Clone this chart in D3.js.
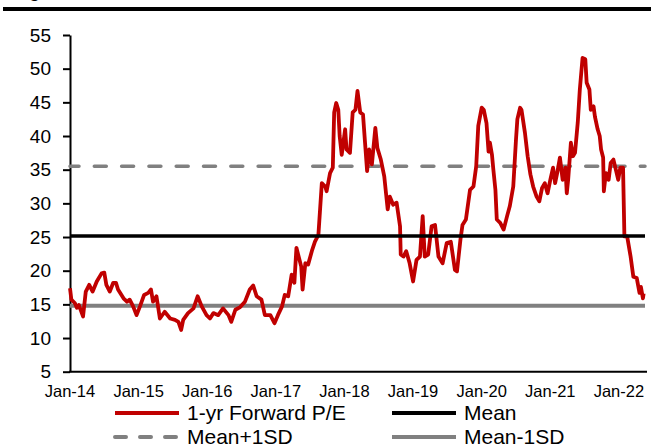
<!DOCTYPE html>
<html>
<head>
  <meta charset="utf-8">
  <title>1-yr Forward P/E</title>
  <script src="https://d3js.org/d3.v7.min.js"></script>
  <style>
    body { margin: 0; background: #fff; }
    svg text { font-family: Arial, "Liberation Sans", sans-serif; fill: #000; }
    .ylab text { font-size: 19px; }
    .xlab { font-size: 16.5px; }
    .legend text { font-size: 21px; }
  </style>
</head>
<body>
  <script>
    // series (decimal year, P/E)
    var dates = [
      2014.00, 2014.02, 2014.07, 2014.10, 2014.13, 2014.19, 2014.23, 2014.28, 2014.33, 2014.39,
      2014.46, 2014.50, 2014.53, 2014.58, 2014.63, 2014.67, 2014.70, 2014.78, 2014.83, 2014.87,
      2014.92, 2014.97, 2015.02, 2015.08, 2015.14, 2015.18, 2015.21, 2015.26, 2015.31, 2015.38,
      2015.46, 2015.53, 2015.58, 2015.62, 2015.65, 2015.72, 2015.80, 2015.86, 2015.92, 2015.99,
      2016.04, 2016.09, 2016.16, 2016.23, 2016.31, 2016.35, 2016.41, 2016.48, 2016.55, 2016.62,
      2016.67, 2016.72, 2016.79, 2016.84, 2016.92, 2016.98, 2017.03, 2017.09, 2017.13, 2017.18,
      2017.23, 2017.27, 2017.30, 2017.37, 2017.39, 2017.43, 2017.47, 2017.53, 2017.57, 2017.62,
      2017.67, 2017.72, 2017.74, 2017.79, 2017.83, 2017.85, 2017.88, 2017.91, 2017.93, 2017.96,
      2018.01, 2018.03, 2018.08, 2018.12, 2018.16, 2018.19, 2018.23, 2018.27, 2018.30, 2018.33,
      2018.36, 2018.40, 2018.45, 2018.48, 2018.53, 2018.58, 2018.63, 2018.66, 2018.71, 2018.76,
      2018.81, 2018.82, 2018.86, 2018.90, 2018.95, 2019.00, 2019.05, 2019.10, 2019.14, 2019.17,
      2019.22, 2019.27, 2019.32, 2019.37, 2019.43, 2019.49, 2019.55, 2019.61, 2019.64, 2019.69,
      2019.72, 2019.77, 2019.83, 2019.88, 2019.92, 2019.95, 2020.00, 2020.03, 2020.07, 2020.10,
      2020.12, 2020.15, 2020.17, 2020.20, 2020.22, 2020.27, 2020.32, 2020.37, 2020.41, 2020.46,
      2020.50, 2020.52, 2020.56, 2020.58, 2020.63, 2020.67, 2020.71, 2020.75, 2020.80, 2020.84,
      2020.88, 2020.92, 2020.96, 2021.00, 2021.04, 2021.07, 2021.10, 2021.14, 2021.18, 2021.22,
      2021.24, 2021.26, 2021.30, 2021.33, 2021.36, 2021.40, 2021.43, 2021.47, 2021.51, 2021.53,
      2021.57, 2021.59, 2021.63, 2021.65, 2021.69, 2021.72, 2021.74, 2021.77, 2021.78, 2021.81,
      2021.85, 2021.88, 2021.92, 2021.96, 2021.99, 2022.02, 2022.06, 2022.08, 2022.12, 2022.17,
      2022.21, 2022.26, 2022.30, 2022.32, 2022.35, 2022.36
    ];
    var pe = [
      17.4, 15.7, 15.2, 14.5, 14.9, 13.2, 16.9, 17.9, 16.9, 18.4,
      19.6, 19.7, 17.9, 16.9, 18.2, 18.2, 17.2, 15.9, 15.4, 15.7,
      14.7, 13.4, 14.7, 16.4, 16.7, 17.2, 15.4, 16.2, 12.9, 13.9,
      12.9, 12.7, 12.4, 11.2, 12.7, 13.7, 14.4, 16.2, 14.7, 13.4,
      12.9, 13.7, 13.4, 14.4, 13.4, 12.4, 14.2, 14.6, 15.4, 17.2,
      17.8, 16.2, 15.7, 13.4, 13.4, 12.2, 13.4, 14.7, 16.4, 16.2,
      19.4, 18.2, 23.4, 20.6, 17.2, 21.1, 20.9, 23.1, 24.3, 25.3,
      33.0, 32.5, 31.8, 34.5, 35.3, 43.5, 44.9, 43.9, 40.0, 37.2,
      41.0, 38.0, 37.5, 43.5, 43.9, 46.7, 43.5, 43.2, 39.0, 34.8,
      38.0, 35.8, 41.2, 38.2, 36.5, 34.0, 29.1, 31.0, 29.8, 30.1,
      26.6, 22.4, 22.1, 22.9, 21.1, 18.4, 21.6, 22.1, 28.1, 22.1,
      22.4, 26.6, 26.8, 22.1, 21.1, 24.1, 24.3, 20.1, 19.9, 24.6,
      26.8, 27.6, 32.0, 32.5, 35.5, 41.5, 44.2, 43.9, 41.9, 37.7,
      39.0, 37.2, 35.0, 32.0, 27.6, 27.1, 26.1, 28.1, 29.6, 32.5,
      39.5, 42.5, 44.2, 43.9, 40.5, 37.0, 34.3, 32.5, 31.0, 30.3,
      32.3, 33.0, 31.5, 33.5, 35.3, 33.0, 34.5, 36.8, 33.5, 35.3,
      31.5, 33.5, 39.0, 37.0, 37.5, 42.0, 46.9, 51.6, 51.4, 47.9,
      46.9, 43.9, 44.4, 42.9, 41.0, 40.0, 38.0, 36.8, 31.8, 34.5,
      33.5, 36.0, 36.5, 34.8, 33.5, 35.3, 35.3, 25.1, 25.1, 22.1,
      19.1, 18.9, 16.7, 17.6, 15.9, 16.6
    ];

    var mean = 25.15, meanPlus = 35.5, meanMinus = 14.8;

    var yTicks = [5, 10, 15, 20, 25, 30, 35, 40, 45, 50, 55];
    var xTicks = [2014, 2015, 2016, 2017, 2018, 2019, 2020, 2021, 2022];
    var xLabels = ["Jan-14", "Jan-15", "Jan-16", "Jan-17", "Jan-18", "Jan-19", "Jan-20", "Jan-21", "Jan-22"];

    var width = 651, height = 447;
    var plotLeft = 70, plotRight = 645, plotTop = 35, plotBottom = 371.7;

    var svg = d3.select("body").append("svg")
        .attr("width", width)
        .attr("height", height);

    svg.append("rect").attr("width", width).attr("height", height).attr("fill", "#fff");

    // title cut off at the top, only its descender shows
    svg.append("text")
        .attr("x", 13).attr("y", -3)
        .style("font-size", "18px").style("font-weight", "bold")
        .text("Figure");
    svg.append("rect")
        .attr("x", 3).attr("y", 7).attr("width", 648).attr("height", 4)
        .attr("fill", "#000");

    var x = d3.scaleLinear().domain([2014, 2022.38]).range([plotLeft, plotRight]);
    var y = d3.scaleLinear().domain([5, 55]).range([plotBottom, plotTop]);

    // y axis
    var yAxis = svg.append("g")
        .attr("class", "ylab")
        .attr("transform", "translate(" + plotLeft + ",0)")
        .call(d3.axisLeft(y).tickValues(yTicks).tickSize(7).tickPadding(12).tickSizeOuter(0));
    yAxis.select(".domain").attr("stroke", "#000").attr("stroke-width", 2);
    yAxis.selectAll(".tick line").attr("stroke", "#000").attr("stroke-width", 2);
    yAxis.selectAll("text").attr("font-family", null).attr("font-size", null);

    // reference lines
    svg.append("line")
        .attr("x1", plotLeft).attr("x2", plotRight)
        .attr("y1", y(meanMinus)).attr("y2", y(meanMinus))
        .attr("stroke", "#808080").attr("stroke-width", 4);
    svg.append("line")
        .attr("x1", plotLeft).attr("x2", plotRight)
        .attr("y1", y(meanPlus)).attr("y2", y(meanPlus))
        .attr("stroke", "#808080").attr("stroke-width", 3.5)
        .attr("stroke-dasharray", "12,15.3").attr("stroke-dashoffset", 3)
        .attr("stroke-linecap", "round");

    // x axis
    svg.append("line")
        .attr("x1", plotLeft - 1).attr("x2", plotRight + 2)
        .attr("y1", plotBottom).attr("y2", plotBottom)
        .attr("stroke", "#000").attr("stroke-width", 2);
    svg.selectAll(".xlab")
        .data(xTicks)
        .enter().append("text")
        .attr("class", "xlab")
        .attr("x", function(d) { return x(d); })
        .attr("y", 397)
        .attr("text-anchor", "middle")
        .text(function(d, i) { return xLabels[i]; });

    // the series
    var line = d3.line()
        .x(function(d) { return x(d[0]); })
        .y(function(d) { return y(d[1]); });

    svg.append("path")
        .datum(d3.zip(dates, pe))
        .attr("d", line)
        .attr("fill", "none")
        .attr("stroke", "#c00000")
        .attr("stroke-width", 3.8)
        .attr("stroke-linejoin", "round");

    svg.append("line")
        .attr("x1", plotLeft).attr("x2", plotRight)
        .attr("y1", y(mean)).attr("y2", y(mean))
        .attr("stroke", "#000").attr("stroke-width", 3.5);

    // legend
    var legend = [
      {name: "1-yr Forward P/E", color: "#c00000", dash: null, x: 113, y: 413},
      {name: "Mean", color: "#000", dash: null, x: 390, y: 413},
      {name: "Mean+1SD", color: "#808080", dash: "11,14", x: 113, y: 437},
      {name: "Mean-1SD", color: "#808080", dash: null, x: 390, y: 437}
    ];
    var lg = svg.selectAll(".legend")
        .data(legend)
        .enter().append("g")
        .attr("class", "legend")
        .attr("transform", function(d) { return "translate(" + d.x + "," + d.y + ")"; });
    lg.append("line")
        .attr("x1", 2).attr("x2", 66)
        .attr("stroke", function(d) { return d.color; })
        .attr("stroke-width", 4)
        .attr("stroke-linecap", function(d) { return d.dash ? "round" : "butt"; })
        .attr("stroke-dasharray", function(d) { return d.dash; });
    lg.append("text")
        .attr("x", 74).attr("dy", "0.35em")
        .text(function(d) { return d.name; });
  </script>
</body>
</html>
